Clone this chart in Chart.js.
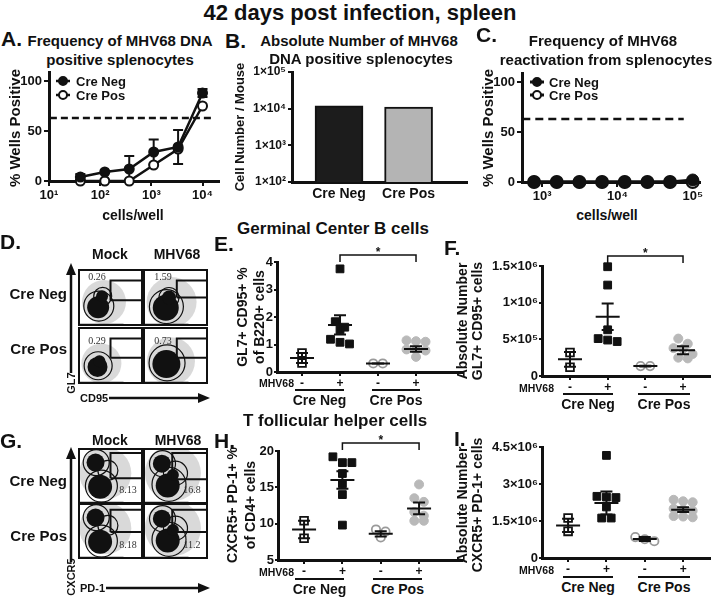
<!DOCTYPE html>
<html><head><meta charset="utf-8"><title>42 days post infection, spleen</title>
<script src="https://cdn.jsdelivr.net/npm/chart.js@4.4.1/dist/chart.umd.min.js"></script>
<style>
html,body{margin:0;padding:0;background:#fff}
body{width:720px;height:598px;position:relative;overflow:hidden;font-family:"Liberation Sans",Arial,Helvetica,sans-serif;color:#111}
.t{position:absolute;white-space:nowrap;font-weight:bold;line-height:1}
.c{position:absolute}
.fb{position:absolute;border:2px solid #111;box-sizing:border-box}
.num{font-family:"Liberation Serif","Times New Roman",serif;font-weight:normal;color:#333}
</style></head><body>
<script>
// ================= DATA =================
// Panel A: frequency of MHV68 DNA positive splenocytes
const aCells = [41, 123, 370, 1111, 3333, 10000];
const aCreNeg = [4, 9, 12, 29, 34, 88];
const aCreNegSem = [3, 0, 13, 12.5, 17, 4];
const aCrePos = [0, 0, 0, 16, 32, 75];
const aCutoff = 63;
const aXTicks = [10, 100, 1000, 10000];
const aXTickLabels = ['10¹', '10²', '10³', '10⁴'];
const pctTicks = [0, 50, 100];
// Panel B: absolute number of DNA positive splenocytes
const bGroups = ['Cre Neg', 'Cre Pos'];
const bValues = [12000, 11000];
const bYTicks = [100, 1000, 10000, 100000];
const bYTickLabels = ['1×10²', '1×10³', '1×10⁴', '1×10⁵'];
// Panel C: reactivation
const cCells = [781, 1563, 3125, 6250, 12500, 25000, 50000, 100000];
const cCreNeg = [0, 0, 0, 0, 0, 0, 0, 2];
const cCrePos = [0, 0, 0, 0, 0, 0, 0, 0];
const cCutoff = 63;
const cXTicks = [1000, 10000, 100000];
const cXTickLabels = ['10³', '10⁴', '10⁵'];
// Scatter panels: groups = Cre Neg mock, Cre Neg MHV68, Cre Pos mock, Cre Pos MHV68
const mhvLabels = ['-', '+', '-', '+'];
// Panel E: GL7+ CD95+ % of B220+
const eNegMock = [0.69, 0.33];
const eNegMhv = [3.75, 1.83, 1.63, 1.53, 1.19, 1.08, 1.02];
const ePosMock = [0.31, 0.31];
const ePosMhv = [1.15, 1.12, 1.10, 0.82, 0.80, 0.78, 0.55];
const eMeans = [0.51, 1.71, 0.31, 0.84];
const eSems = [0.18, 0.35, 0.01, 0.10];
const eYTicks = [0, 1, 2, 3, 4];
const eYTickLabels = ['0', '1', '2', '3', '4'];
// Panel F: absolute number GL7+ CD95+
const fNegMock = [320000, 120000];
const fNegMhv = [1490000, 1240000, 630000, 510000, 490000, 470000];
const fPosMock = [135000, 135000];
const fPosMhv = [510000, 440000, 380000, 370000, 300000, 250000, 240000];
const fMeans = [227000, 807000, 135000, 350000];
const fSems = [100000, 180000, 4000, 55000];
const fYTicks = [0, 500000, 1000000, 1500000];
const fYTickLabels = ['0', '5×10⁵', '1×10⁶', '1.5×10⁶'];
// Panel H: CXCR5+ PD-1+ % of CD4+
const hNegMock = [10.4, 8.0];
const hNegMhv = [19.2, 18.4, 18.4, 16.9, 15.5, 14.0, 9.8];
const hPosMock = [9.2, 8.9, 8.1];
const hPosMhv = [15.4, 13.5, 13.0, 11.6, 11.1, 10.4, 10.4];
const hMeans = [9.2, 16.0, 8.6, 12.1];
const hSems = [1.2, 1.2, 0.35, 0.8];
const hYTicks = [5, 10, 15, 20];
const hYTickLabels = ['5', '10', '15', '20'];
// Panel I: absolute number CXCR5+ PD-1+
const iNegMock = [1620000, 1080000];
const iNegMhv = [4160000, 2500000, 2470000, 2450000, 2070000, 1620000, 1620000];
const iPosMock = [850000, 760000, 680000];
const iPosMhv = [2360000, 2300000, 2260000, 2000000, 1960000, 1920000, 1700000, 1680000, 1650000];
const iMeans = [1320000, 2230000, 770000, 1960000];
const iSems = [270000, 470000, 80000, 100000];
const iYTicks = [0, 1500000, 3000000, 4500000];
const iYTickLabels = ['0', '1.5×10⁶', '3×10⁶', '4.5×10⁶'];
// Flow gate frequencies
const gcGateLabels = ['0.26', '1.59', '0.29', '0.73'];
const tfhGateLabels = ['8.13', '16.8', '8.18', '11.2'];

// ================= HELPERS =================
const FONT = '"Liberation Sans", Arial, Helvetica, sans-serif';
Chart.defaults.font.family = FONT;
Chart.defaults.color = '#111';
Chart.defaults.layout.autoPadding = false;

const marks = {
  id: 'marks',
  beforeDatasetsDraw(chart, a, o) {
    const ctx = chart.ctx, xs = chart.scales.x, ys = chart.scales.y;
    if (!xs || !ys) return;
    ctx.save();
    (o.cutoffs || []).forEach(c => {
      ctx.setLineDash(c.dash); ctx.lineWidth = c.width; ctx.strokeStyle = '#111';
      const y = ys.getPixelForValue(c.value);
      ctx.beginPath(); ctx.moveTo(xs.getPixelForValue(c.from), y); ctx.lineTo(xs.getPixelForValue(c.to), y); ctx.stroke();
    });
    ctx.setLineDash([]);
    chart.data.datasets.forEach(ds => {
      if (!ds.errs) return;
      ctx.strokeStyle = '#111'; ctx.lineWidth = 2;
      ds.data.forEach((p, j) => {
        const e = ds.errs[j]; if (!e) return;
        const x = xs.getPixelForValue(p.x);
        const t = ys.getPixelForValue(p.y + e), b = ys.getPixelForValue(Math.max(p.y - e, ys.min));
        ctx.beginPath(); ctx.moveTo(x, t); ctx.lineTo(x, b);
        ctx.moveTo(x - 5, t); ctx.lineTo(x + 5, t);
        if (p.y - e > ys.min) { ctx.moveTo(x - 5, b); ctx.lineTo(x + 5, b); }
        ctx.stroke();
      });
    });
    ctx.restore();
  },
  afterDatasetsDraw(chart, a, o) {
    const ctx = chart.ctx, xs = chart.scales.x, ys = chart.scales.y;
    if (!xs || !ys) return;
    ctx.save(); ctx.strokeStyle = '#111'; ctx.lineWidth = 2;
    if (o.means) o.means.forEach((m, i) => {
      const x = xs.getPixelForValue(i + 1), y = ys.getPixelForValue(m), s = o.sems[i];
      const t = ys.getPixelForValue(m + s), b = ys.getPixelForValue(m - s);
      ctx.beginPath();
      ctx.moveTo(x - o.meanHalf, y); ctx.lineTo(x + o.meanHalf, y);
      ctx.moveTo(x, t); ctx.lineTo(x, b);
      ctx.moveTo(x - o.capHalf, t); ctx.lineTo(x + o.capHalf, t);
      ctx.moveTo(x - o.capHalf, b); ctx.lineTo(x + o.capHalf, b);
      ctx.stroke();
    });
    if (o.bracket) {
      const x1 = xs.getPixelForValue(o.bracket.pair[0]), x2 = xs.getPixelForValue(o.bracket.pair[1]);
      const y = chart.chartArea.top - o.bracket.above;
      ctx.lineWidth = 1.5; ctx.beginPath();
      ctx.moveTo(x1, y + 7); ctx.lineTo(x1, y); ctx.lineTo(x2, y); ctx.lineTo(x2, y + 7); ctx.stroke();
      ctx.fillStyle = '#111'; ctx.font = 'bold 12px ' + FONT; ctx.textAlign = 'center'; ctx.textBaseline = 'bottom';
      ctx.fillText(o.bracket.text, (x1 + x2) / 2, y + 4);
    }
    if (o.legend) {
      const L = o.legend, ca = chart.chartArea;
      chart.data.datasets.forEach((ds, i) => {
        if (!ds.label) return;
        const x = ca.left + L.x, y = ca.top + L.y + i * L.gap;
        ctx.strokeStyle = '#111'; ctx.lineWidth = ds.borderWidth;
        ctx.beginPath(); ctx.moveTo(x - L.len, y); ctx.lineTo(x + L.len, y); ctx.stroke();
        ctx.beginPath(); ctx.arc(x, y, L.r, 0, Math.PI * 2);
        ctx.fillStyle = ds.pointBackgroundColor; ctx.fill();
        ctx.lineWidth = 2; ctx.stroke();
        ctx.fillStyle = '#111'; ctx.font = 'bold ' + L.size + 'px ' + FONT;
        ctx.textAlign = 'left'; ctx.textBaseline = 'middle';
        ctx.fillText(ds.label, x + L.text, y + 1);
      });
    }
    ctx.restore();
  }
};
Chart.register(marks);

function mk(g, cfg) {
  const w = g.r - g.l + g.yW + g.padR, h = g.b - g.t + g.padT + g.xH;
  const div = document.createElement('div'); div.className = 'c';
  div.style.cssText = `left:${g.l - g.yW}px;top:${g.t - g.padT}px;width:${w}px;height:${h}px`;
  const cv = document.createElement('canvas'); cv.width = w; cv.height = h;
  cv.style.width = w + 'px'; cv.style.height = h + 'px';
  div.appendChild(cv); document.body.appendChild(div);
  const o = cfg.options;
  o.responsive = false; o.maintainAspectRatio = false; o.animation = false; o.events = [];
  o.layout = { autoPadding: false, padding: { top: g.padT, right: g.padR, left: 0, bottom: 0 } };
  o.scales.y.afterFit = s => { s.width = g.yW; s.paddingTop = 0; s.paddingBottom = 0; };
  o.scales.x.afterFit = s => { s.height = g.xH; s.paddingLeft = 0; s.paddingRight = 0; };
  o.plugins = Object.assign({ legend: { display: false }, tooltip: { enabled: false } }, o.plugins || {});
  new Chart(cv, cfg);
}

function ax(type, min, max, ticks, labels, opt) {
  opt = opt || {};
  return {
    type, min, max, offset: false,
    afterBuildTicks: s => { s.ticks = ticks.map(v => ({ value: v })); },
    border: { display: true, color: '#111', width: 3 },
    grid: { display: true, drawOnChartArea: false, drawTicks: opt.drawTicks !== false, tickLength: opt.tickLength || 5, color: '#111', lineWidth: 2 },
    ticks: { autoSkip: false, maxRotation: 0, minRotation: 0, padding: opt.padding == null ? 2 : opt.padding,
      font: { size: opt.size || 13, weight: 'bold', family: FONT }, color: '#111',
      callback: (v, i) => labels[i] }
  };
}

function T(txt, x, y, size, o) {
  o = o || {};
  const d = document.createElement('div'); d.className = 't' + (o.cls ? ' ' + o.cls : '');
  d.textContent = txt; d.style.fontSize = size + 'px'; d.style.left = x + 'px'; d.style.top = y + 'px';
  let tf = o.align === 'right' ? 'translate(-100%,-50%)' : o.align === 'left' ? 'translate(0,-50%)' : 'translate(-50%,-50%)';
  if (o.rot) tf += ' rotate(-90deg)';
  d.style.transform = tf;
  document.body.appendChild(d);
}

// Prism-like column scatter: points closer than one symbol height share a row, rows are centred (layout only)
function swarm(vals, center, yppu, xppu) {
  const gap = 9.5, binH = 7;
  const order = vals.map((v, i) => i).sort((a, b) => vals[b] - vals[a]);
  const rows = [];
  order.forEach(i => {
    const last = rows[rows.length - 1];
    if (last && (vals[last[0]] - vals[i]) * yppu < binH) last.push(i); else rows.push([i]);
  });
  const out = new Array(vals.length);
  rows.forEach(row => row.forEach((i, k) => {
    const px = (k - (row.length - 1) / 2) * gap;
    out[i] = { x: center + px / xppu, y: vals[i] };
  }));
  return out;
}

const grpStyles = [
  { ps: 'rect', r: 5.5, bg: '#ffffff', bc: '#111111', bw: 1.8 },
  { ps: 'rect', r: 5.5, bg: '#111111', bc: '#111111', bw: 1 },
  { ps: 'circle', r: 4.2, bg: '#ffffff', bc: '#9a9a9a', bw: 1.8 },
  { ps: 'circle', r: 4.5, bg: '#b9b9b9', bc: '#b9b9b9', bw: 1 }
];

function scatterPanel(g, groups, means, sems, yTicks, yLabels, bracket) {
  const xppu = (g.r - g.l) / (g.xmax - g.xmin), yppu = (g.b - g.t) / (g.ymax - g.ymin);
  const datasets = groups.map((vals, i) => {
    const s = grpStyles[i];
    return { data: swarm(vals, i + 1, yppu, xppu), pointStyle: s.ps, pointRadius: s.r,
      pointBackgroundColor: s.bg, pointBorderColor: s.bc, pointBorderWidth: s.bw, clip: false };
  });
  mk(g, { type: 'scatter', data: { datasets }, options: {
    scales: {
      x: ax('linear', g.xmin, g.xmax, [1, 2, 3, 4], mhvLabels, { size: 12, tickLength: 4, padding: 0 }),
      y: ax('linear', g.ymin, g.ymax, yTicks, yLabels, { size: 13, tickLength: 3, padding: 1 })
    },
    plugins: { marks: { means, sems, meanHalf: 12, capHalf: 6, bracket } }
  } });
}

function flowPanel(l, t, w, h, spec) {
  const div = document.createElement('div'); div.className = 'c';
  div.style.cssText = `left:${l}px;top:${t}px;width:${w}px;height:${h}px`;
  const cv = document.createElement('canvas'); cv.width = w; cv.height = h;
  cv.style.width = w + 'px'; cv.style.height = h + 'px';
  div.appendChild(cv); document.body.appendChild(div);
  const g = spec.gate;
  const xy = arr => arr.map(p => ({ x: p.x, y: p.y }));
  new Chart(cv, { type: 'scatter', data: { datasets: [
    { data: xy(spec.haze), pointRadius: spec.haze.map(p => p.r), pointBackgroundColor: 'rgba(0,0,0,0.15)', pointBorderWidth: 0, clip: false, order: 5 },
    { data: xy(spec.rings), pointRadius: spec.rings.map(p => p.r), pointBackgroundColor: 'rgba(0,0,0,0)', pointBorderColor: '#111', pointBorderWidth: 1.2, clip: false, order: 4 },
    { data: xy(spec.cores), pointRadius: spec.cores.map(p => p.r), pointBackgroundColor: '#111', pointBorderColor: '#111', pointBorderWidth: 0, clip: false, order: 3 },
    { data: [{ x: 2, y: 1.5 }, { x: 70, y: 1.5 }], showLine: true, borderColor: '#222', borderWidth: 3, pointRadius: 0, clip: false, order: 2 },
    { data: [{ x: g[0], y: g[2] }, { x: g[1], y: g[2] }, { x: g[1], y: g[3] }, { x: g[0], y: g[3] }, { x: g[0], y: g[2] }],
      showLine: true, borderColor: '#111', borderWidth: 2, pointRadius: 0, fill: false, clip: false, order: 1 }
  ] }, options: { responsive: false, animation: false, events: [],
    layout: { autoPadding: false, padding: 0 },
    scales: { x: { type: 'linear', min: 0, max: 100, display: false }, y: { type: 'linear', min: 0, max: 100, display: false } },
    plugins: { legend: { display: false }, tooltip: { enabled: false } } } });
  const b = document.createElement('div'); b.className = 'fb';
  b.style.cssText = `left:${l}px;top:${t}px;width:${w}px;height:${h}px`;
  document.body.appendChild(b);
}

// ================= PANEL A =================
mk({ l: 49, r: 219, t: 71, b: 181, yW: 45, xH: 22, padT: 0, padR: 10 }, {
  type: 'line',
  data: { datasets: [
    { label: 'Cre Neg', data: aCells.map((c, i) => ({ x: c, y: aCreNeg[i] })), errs: aCreNegSem,
      borderColor: '#111', borderWidth: 2.5, pointRadius: 4.5, pointBackgroundColor: '#111', pointBorderColor: '#111', pointBorderWidth: 2, clip: false, order: 0 },
    { label: 'Cre Pos', data: aCells.map((c, i) => ({ x: c, y: aCrePos[i] })),
      borderColor: '#111', borderWidth: 2.5, pointRadius: 4.5, pointBackgroundColor: '#ffffff', pointBorderColor: '#111', pointBorderWidth: 2, clip: false, order: 1 }
  ] },
  options: {
    scales: {
      x: ax('logarithmic', 10, 21000, aXTicks, aXTickLabels, { size: 13 }),
      y: ax('linear', 0, 110, pctTicks, pctTicks.map(String), { size: 13 })
    },
    plugins: { marks: { cutoffs: [{ value: aCutoff, from: 10.4, to: 16000, dash: [7, 4], width: 2.5 }],
      legend: { x: 14, y: 10, gap: 14, len: 7, r: 4, text: 13, size: 13 } } }
  }
});

// ================= PANEL B =================
mk({ l: 292, r: 467, t: 72, b: 182, yW: 58, xH: 22, padT: 6, padR: 5 }, {
  type: 'bar',
  data: { datasets: [{ data: bValues.map((v, i) => ({ x: i + 1, y: v })),
    backgroundColor: ['#1c1c1c', '#b4b4b4'], borderColor: '#111', borderWidth: 2, barThickness: 48 }] },
  options: {
    scales: {
      x: ax('linear', 0.324, 2.84, [1, 2], bGroups, { size: 14, drawTicks: false, padding: 4 }),
      y: ax('logarithmic', 100, 100000, bYTicks, bYTickLabels, { size: 12, tickLength: 4 })
    }
  }
});

// ================= PANEL C =================
mk({ l: 522, r: 700, t: 72, b: 182, yW: 38, xH: 22, padT: 0, padR: 15 }, {
  type: 'line',
  data: { datasets: [
    { label: 'Cre Neg', data: cCells.map((c, i) => ({ x: c, y: cCreNeg[i] })),
      borderColor: '#111', borderWidth: 3, pointRadius: 6, pointBackgroundColor: '#111', pointBorderColor: '#111', pointBorderWidth: 1, clip: false, order: 0 },
    { label: 'Cre Pos', data: cCells.map((c, i) => ({ x: c, y: cCrePos[i] })),
      borderColor: '#111', borderWidth: 3, pointRadius: 6, pointBackgroundColor: '#ffffff', pointBorderColor: '#111', pointBorderWidth: 2, clip: false, order: 1 }
  ] },
  options: {
    scales: {
      x: ax('logarithmic', 540, 125000, cXTicks, cXTickLabels, { size: 13 }),
      y: ax('linear', 0, 110, pctTicks, pctTicks.map(String), { size: 13 })
    },
    plugins: { marks: { cutoffs: [{ value: cCutoff, from: 545, to: 76000, dash: [8, 5], width: 2.5 }],
      legend: { x: 15, y: 10, gap: 13, len: 7, r: 4, text: 12, size: 13 } } }
  }
});

// ================= PANELS E, F, H, I =================
scatterPanel({ l: 277, r: 462, t: 262, b: 372, yW: 22, xH: 20, padT: 22, padR: 5, xmin: 0.342, xmax: 5.21, ymin: 0, ymax: 4 },
  [eNegMock, eNegMhv, ePosMock, ePosMhv], eMeans, eSems, eYTicks, eYTickLabels, { pair: [2, 4], above: 7, text: '*' });
scatterPanel({ l: 542, r: 710, t: 266, b: 376, yW: 60, xH: 20, padT: 22, padR: 5, xmin: 0.257, xmax: 4.716, ymin: 0, ymax: 1500000 },
  [fNegMock, fNegMhv, fPosMock, fPosMhv], fMeans, fSems, fYTicks, fYTickLabels, { pair: [2, 4], above: 10, text: '*' });
scatterPanel({ l: 278, r: 462, t: 451, b: 560, yW: 30, xH: 20, padT: 22, padR: 5, xmin: 0.32, xmax: 5.12, ymin: 5, ymax: 20 },
  [hNegMock, hNegMhv, hPosMock, hPosMhv], hMeans, hSems, hYTicks, hYTickLabels, { pair: [2, 4], above: 8, text: '*' });
scatterPanel({ l: 542, r: 710, t: 447, b: 558, yW: 60, xH: 20, padT: 8, padR: 5, xmin: 0.32, xmax: 4.7, ymin: 0, ymax: 4500000 },
  [iNegMock, iNegMhv, iPosMock, iPosMhv], iMeans, iSems, iYTicks, iYTickLabels, null);

// ================= FLOW PLOTS (D, G) =================
const gcSpecs = [
  { haze: [{ x: 40, y: 42, r: 22 }], rings: [{ x: 32, y: 35, r: 15 }, { x: 38, y: 52, r: 9 }], cores: [{ x: 31, y: 33, r: 11 }, { x: 37, y: 52, r: 6 }], gate: [50, 100, 45, 80] },
  { haze: [{ x: 44, y: 42, r: 25 }], rings: [{ x: 36, y: 34, r: 17 }, { x: 40, y: 50, r: 10 }], cores: [{ x: 35, y: 32, r: 13 }, { x: 40, y: 50, r: 7 }], gate: [52, 100, 50, 80] },
  { haze: [{ x: 36, y: 36, r: 20 }], rings: [{ x: 31, y: 32, r: 14 }], cores: [{ x: 30, y: 30, r: 10 }, { x: 33, y: 40, r: 6 }], gate: [50, 100, 46, 80] },
  { haze: [{ x: 43, y: 40, r: 24 }], rings: [{ x: 37, y: 37, r: 18 }], cores: [{ x: 36, y: 35, r: 14 }], gate: [52, 100, 46, 80] }
];
const tfhSpecs = [
  { haze: [{ x: 42, y: 55, r: 26 }], rings: [{ x: 28, y: 74, r: 13 }, { x: 36, y: 32, r: 16 }, { x: 46, y: 60, r: 10 }], cores: [{ x: 27, y: 74, r: 9 }, { x: 34, y: 31, r: 12 }], gate: [50, 100, 46, 91] },
  { haze: [{ x: 46, y: 55, r: 28 }], rings: [{ x: 30, y: 72, r: 13 }, { x: 40, y: 35, r: 17 }, { x: 50, y: 55, r: 12 }], cores: [{ x: 29, y: 72, r: 9 }, { x: 38, y: 33, r: 12 }, { x: 46, y: 52, r: 6 }], gate: [45, 100, 44, 91] },
  { haze: [{ x: 42, y: 55, r: 26 }], rings: [{ x: 28, y: 74, r: 13 }, { x: 36, y: 32, r: 16 }, { x: 46, y: 60, r: 10 }], cores: [{ x: 27, y: 74, r: 9 }, { x: 34, y: 31, r: 12 }], gate: [50, 100, 48, 88] },
  { haze: [{ x: 46, y: 55, r: 28 }], rings: [{ x: 30, y: 72, r: 13 }, { x: 40, y: 35, r: 17 }, { x: 50, y: 55, r: 12 }], cores: [{ x: 29, y: 72, r: 9 }, { x: 38, y: 33, r: 12 }, { x: 46, y: 52, r: 6 }], gate: [45, 100, 48, 88] }
];
const flowCols = [78, 143], gcRows = [269, 327], tfhRows = [448, 503];
gcSpecs.forEach((s, i) => flowPanel(flowCols[i % 2], gcRows[Math.floor(i / 2)], 65, 57, s));
tfhSpecs.forEach((s, i) => flowPanel(flowCols[i % 2], tfhRows[Math.floor(i / 2)], 65, 56, s));
gcGateLabels.forEach((t, i) => T(t, [97, 163][i % 2], [277, 341][Math.floor(i / 2)], 10, { cls: 'num' }));
tfhGateLabels.forEach((t, i) => T(t, [128, 192][i % 2], [490, 545][Math.floor(i / 2)], 10, { cls: 'num' }));

// ================= TEXT =================
T('42 days post infection, spleen', 360, 13, 22);
T('A.', 1, 38, 21, { align: 'left' });
T('Frequency of MHV68 DNA', 120, 40, 15);
T('positive splenocytes', 120, 59, 15);
T('B.', 225, 40, 21, { align: 'left' });
T('Absolute Number of MHV68', 359, 40, 15);
T('DNA positive splenocytes', 361, 58, 15);
T('C.', 476, 34, 21, { align: 'left' });
T('Frequency of MHV68', 603, 40, 15);
T('reactivation from splenocytes', 606, 59, 15);
T('% Wells Positive', 14, 128, 15, { rot: true });
T('Cell Number / Mouse', 239, 127, 13, { rot: true });
T('% Wells Positive', 487, 128, 15, { rot: true });
T('cells/well', 133, 215, 14);
T('cells/well', 607, 215, 14);

T('Germinal Center B cells', 333, 228, 17);
T('T follicular helper cells', 335, 420, 17);
T('D.', 0, 241, 21, { align: 'left' });
T('E.', 214, 243, 21, { align: 'left' });
T('F.', 444, 247, 21, { align: 'left' });
T('G.', 0, 440, 21, { align: 'left' });
T('H.', 214, 440, 21, { align: 'left' });
T('I.', 454, 438, 21, { align: 'left' });

T('Mock', 110, 254, 14); T('MHV68', 177, 254, 14);
T('Cre Neg', 67, 293, 15, { align: 'right' }); T('Cre Pos', 67, 348, 15, { align: 'right' });
T('GL7', 71, 383, 11, { rot: true }); T('CD95', 80, 398, 11, { align: 'left' });
T('Mock', 110, 440, 14); T('MHV68', 178, 440, 14);
T('Cre Neg', 67, 480, 15, { align: 'right' }); T('Cre Pos', 67, 535, 15, { align: 'right' });
T('CXCR5', 71, 577, 11, { rot: true }); T('PD-1', 80, 588, 11, { align: 'left' });

T('GL7+ CD95+ %', 242, 317, 14, { rot: true }); T('of B220+ cells', 259, 317, 14, { rot: true });
T('Absolute Number', 462, 321, 14, { rot: true }); T('GL7+ CD95+ cells', 477, 321, 14, { rot: true });
T('CXCR5+ PD-1+ %', 232, 505, 14, { rot: true }); T('of CD4+ cells', 250, 505, 14, { rot: true });
T('Absolute Number', 462, 505, 14, { rot: true }); T('CXCR5+ PD-1+ cells', 477, 505, 14, { rot: true });

const grpRows = [
  { mx: 294, my: 383, ly: 390, ty: 400, n: [295, 344], p: [372, 420] },
  { mx: 554, my: 388, ly: 394, ty: 404, n: [563, 613], p: [638, 690] },
  { mx: 294, my: 572, ly: 579, ty: 589, n: [295, 344], p: [373, 422] },
  { mx: 554, my: 570, ly: 577, ty: 587, n: [563, 613], p: [638, 690] }
];
let svg = '<svg width="720" height="598" style="position:absolute;left:0;top:0" xmlns="http://www.w3.org/2000/svg">';
grpRows.forEach(r => {
  T('MHV68', r.mx, r.my, 10.5, { align: 'right' });
  T('Cre Neg', (r.n[0] + r.n[1]) / 2, r.ty, 14);
  T('Cre Pos', (r.p[0] + r.p[1]) / 2, r.ty, 14);
  svg += `<line x1="${r.n[0]}" y1="${r.ly}" x2="${r.n[1]}" y2="${r.ly}" stroke="#111" stroke-width="2"/>`;
  svg += `<line x1="${r.p[0]}" y1="${r.ly}" x2="${r.p[1]}" y2="${r.ly}" stroke="#111" stroke-width="2"/>`;
});
// axis arrows of flow plots
svg += '<line x1="71" y1="373" x2="71" y2="272" stroke="#111" stroke-width="2.5"/><polygon points="71,263 66,275 76,275" fill="#111"/>';
svg += '<line x1="109" y1="398" x2="200" y2="398" stroke="#111" stroke-width="2.5"/><polygon points="210,398 198,393 198,403" fill="#111"/>';
svg += '<line x1="71" y1="562" x2="71" y2="456" stroke="#111" stroke-width="2.5"/><polygon points="71,447 66,459 76,459" fill="#111"/>';
svg += '<line x1="106" y1="588" x2="200" y2="588" stroke="#111" stroke-width="2.5"/><polygon points="210,588 198,583 198,593" fill="#111"/>';
svg += '</svg>';
document.body.insertAdjacentHTML('beforeend', svg);
</script>
</body></html>
